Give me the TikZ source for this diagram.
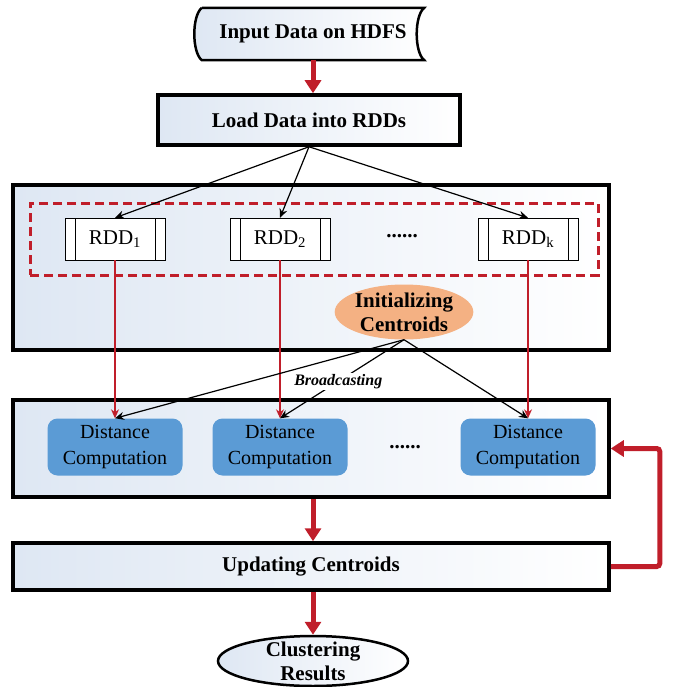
\documentclass[tikz,border=0pt]{standalone}
\usepackage{fontspec}
\setmainfont{Liberation Serif}
\usetikzlibrary{positioning, arrows.meta, shapes.geometric, backgrounds}
\definecolor{flowred}{RGB}{192,30,42}
\definecolor{paleblue}{RGB}{222,231,243}
\definecolor{peach}{RGB}{244,177,131}
\definecolor{calcblue}{RGB}{91,155,213}

\begin{document}
\begin{tikzpicture}[
    x=1pt, y=-1pt,
    boldtext/.style={font=\fontsize{21}{24}\selectfont\bfseries},
    frame/.style={
        draw=black, line width=3.5pt,
        left color=paleblue, right color=white
    },
    stage/.style={
        rectangle, frame, boldtext, align=center
    },
    rdd/.style={
        rectangle, draw=black, thin, fill=white,
        minimum width=100pt, minimum height=42pt,
        font=\fontsize{21}{24}\selectfont,
        path picture={
            \draw ([xshift=10pt]path picture bounding box.north west) -- ([xshift=10pt]path picture bounding box.south west);
            \draw ([xshift=-10pt]path picture bounding box.north east) -- ([xshift=-10pt]path picture bounding box.south east);
        }
    },
    calc/.style={
        rectangle, rounded corners=10pt, fill=calcblue,
        minimum width=135pt, minimum height=57pt,
        align=center, font=\fontsize{20}{26}\selectfont
    },
    blob/.style={
        ellipse, align=center, boldtext,
        inner xsep=0pt, inner ysep=-5pt
    },
    bigarrow/.style={draw=flowred, line width=5pt, -{Triangle[width=16pt,length=13pt]}},
    thinred/.style={draw=flowred, line width=1.2pt, -{Stealth[length=9pt,width=8pt]}},
    thinblack/.style={draw=black, line width=1.2pt, -{Stealth[length=9pt,width=8pt]}}
]

\useasboundingbox (0,0) rectangle (672,687);

% Input and loading
\node[boldtext, minimum width=222pt, minimum height=52pt] (input) at (313,34) {Input Data on HDFS};
\begin{scope}[on background layer]
\draw[frame, line width=2.5pt] (input.north west) -- (input.north east)
    .. controls ([xshift=-10pt,yshift=-8pt]input.north east) and ([xshift=-10pt,yshift=8pt]input.south east) .. (input.south east)
    -- (input.south west)
    .. controls ([xshift=-10pt,yshift=8pt]input.south west) and ([xshift=-10pt,yshift=-8pt]input.north west) .. (input.north west);
\end{scope}
\node[stage, minimum width=302pt, minimum height=50pt] (load) at (309,120) {Load Data into RDDs};

% Outer frames
\node[stage, minimum width=596pt, minimum height=165pt] (initbox) at (311,267.5) {};
\node[stage, minimum width=596pt, minimum height=97pt] (compbox) at (311,448.5) {};
\node[stage, minimum width=596pt, minimum height=47pt] (updt) at (311,566.5) {Updating Centroids};

% RDD partitions
\node[rectangle, draw=flowred, line width=3pt, dash pattern=on 9pt off 5pt,
      minimum width=568pt, minimum height=72pt] (rddgroup) at (314,239) {};
\node[rdd] (rdd1) at (115,239) {RDD\textsubscript{1}};
\node[rdd] (rdd2) at (280,239) {RDD\textsubscript{2}};
\node[boldtext] (dots1) at (402,236) {......};
\node[rdd] (rddk) at (528,239) {RDD\textsubscript{k}};

\node[blob, fill=peach, minimum width=132pt, minimum height=55pt] (init) at (404,312) {Initializing\\Centroids};

% Distance computation
\node[calc] (dc1) at (115,447) {Distance\\Computation};
\node[calc] (dc2) at (280,447) {Distance\\Computation};
\node[boldtext] (dots2) at (405,447) {......};
\node[calc] (dc3) at (528,447) {Distance\\Computation};

\node[blob, draw=black, line width=2.5pt, left color=paleblue, right color=white,
      minimum width=190pt, minimum height=50pt] (result) at (313,661) {Clustering\\Results};

% Arrows
\draw[bigarrow] (input.south) -- (input.south |- load.north);
\draw[thinblack] (load.south) -- (rdd1.north);
\draw[thinblack] (load.south) -- (rdd2.north);
\draw[thinblack] (load.south) -- (rddk.north);

\draw[thinred] (rdd1.south) -- (dc1.north);
\draw[thinred] (rdd2.south) -- (dc2.north);
\draw[thinred] (rddk.south) -- (dc3.north);

\draw[thinblack] (init.south) -- (dc1.north);
\draw[thinblack] (init.south) -- node[pos=0.53, fill=white, inner sep=1pt,
    font=\fontsize{16}{18}\selectfont\bfseries\itshape] {Broadcasting} (dc2.north);
\draw[thinblack] (init.south) -- (dc3.north);

\draw[bigarrow] (result.north |- compbox.south) -- (result.north |- updt.north);
\draw[bigarrow] (result.north |- updt.south) -- (result.north);
\draw[bigarrow, rounded corners=3pt] (updt.east) -- ++(49,0) |- (compbox.east);

\end{tikzpicture}
\end{document}
